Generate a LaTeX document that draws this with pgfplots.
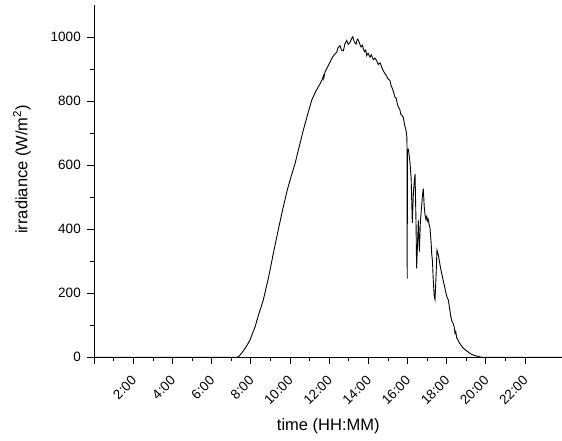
\documentclass[border=0pt]{standalone}
\usepackage{pgfplots}
\pgfplotsset{compat=1.18}
\usepackage{fontspec}
\setmainfont{Liberation Sans}

\begin{document}
\begin{tikzpicture}
\begin{axis}[
  width=468pt, height=352pt, scale only axis,
  xmin=0, xmax=23.9, ymin=0, ymax=1100,
  axis lines=left, axis line style={-, line width=1.2pt},
  tick align=outside,
  major tick length=7pt, minor tick length=4pt,
  every tick/.style={black, line width=1pt},
  xtick={0,2,...,22},
  xticklabels={,2:00,4:00,6:00,8:00,10:00,12:00,14:00,16:00,18:00,20:00,22:00},
  minor x tick num=1,
  ytick={0,200,...,1000},
  minor y tick num=1,
  xticklabel style={xshift=-3pt, yshift=-9pt, rotate=45, anchor=north east, inner sep=1pt},
  yticklabel style={xshift=-3pt},
  /pgf/number format/assume math mode=true,
  /pgf/number format/1000 sep={},
  ticklabel style={font=\fontsize{13.5}{16}\selectfont},
  label style={font=\fontsize{16.5}{19}\selectfont},
  xlabel={time (HH:MM)},
  ylabel={irradiance (W/m\textsuperscript{2})},
  xlabel style={yshift=-8pt},
  ylabel style={yshift=13pt, xshift=12pt},
]
\addplot[black, line width=0.9pt] coordinates {
(0,0) (7.30,0) (7.40,4) (7.55,15) (7.70,28) (7.85,43) (7.95,54) (8.10,78)
(8.21,95) (8.40,135) (8.63,179) (8.90,250) (9.14,324) (9.40,400) (9.65,470)
(9.86,524) (10.05,565) (10.25,605) (10.45,655) (10.67,709) (10.90,760)
(11.10,803) (11.30,830) (11.53,855) (11.65,870) (11.70,880) (11.72,872)
(11.78,891) (11.95,912) (12.12,933) (12.25,945) (12.38,953) (12.45,968)
(12.55,974) (12.62,960) (12.72,958) (12.80,980) (12.89,990) (12.97,978)
(13.06,984) (13.13,995) (13.20,1002) (13.28,985) (13.37,979) (13.43,994)
(13.48,992) (13.55,980) (13.62,970) (13.70,975) (13.74,964) (13.80,955)
(13.86,960) (13.91,943) (13.98,950) (14.08,938) (14.15,945) (14.25,930)
(14.33,935) (14.42,927) (14.50,915) (14.60,920) (14.68,906) (14.76,895)
(14.85,886) (14.92,880) (15.00,870) (15.10,865) (15.15,850) (15.22,840)
(15.30,825) (15.35,813) (15.42,810) (15.48,790) (15.53,782) (15.60,775)
(15.65,760) (15.72,755) (15.78,750) (15.85,725) (15.92,709) (15.96,690)
(15.97,660) (15.98,246) (15.99,650) (16.04,650) (16.12,610) (16.18,560)
(16.24,420) (16.30,520) (16.38,572) (16.43,420) (16.46,278) (16.52,380)
(16.55,428) (16.60,330) (16.65,420) (16.70,460) (16.75,500) (16.80,527)
(16.85,470) (16.89,445) (16.94,430) (16.98,440) (17.03,425) (17.06,430)
(17.10,415) (17.14,405) (17.20,360) (17.23,324) (17.27,300) (17.31,241)
(17.36,190) (17.40,180) (17.45,250) (17.50,335) (17.57,320) (17.65,290)
(17.74,262) (17.82,240) (17.91,215) (18.00,190) (18.08,179) (18.15,150)
(18.20,130) (18.25,115) (18.30,110) (18.38,95) (18.42,75) (18.46,80)
(18.51,60) (18.54,58) (18.60,50) (18.68,42) (18.85,28) (19.02,20)
(19.19,12) (19.35,7) (19.53,4) (19.70,1) (19.85,0) (23.9,0)
};
\end{axis}
\pgfresetboundingbox
\path (current axis.south west) ++(-94.3pt,-82.7pt) rectangle ++(562pt,440pt);
\end{tikzpicture}
\end{document}
